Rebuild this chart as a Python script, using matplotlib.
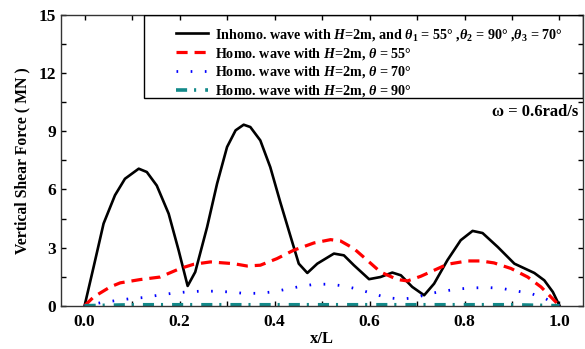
import numpy as np
import matplotlib
matplotlib.use("Agg")
import matplotlib.pyplot as plt
from matplotlib.patches import Rectangle
from matplotlib.ticker import MultipleLocator, FormatStrFormatter

plt.rcParams['font.family'] = 'Liberation Serif'
plt.rcParams['font.weight'] = 'bold'
plt.rcParams['mathtext.fontset'] = 'custom'
plt.rcParams['mathtext.rm'] = 'Liberation Serif:bold'
plt.rcParams['mathtext.it'] = 'Liberation Serif:bold:italic'
plt.rcParams['mathtext.bf'] = 'Liberation Serif:bold'
plt.rcParams['lines.scale_dashes'] = False

# inhomogeneous wave, theta1=55, theta2=90, theta3=70
x_inh = [0.0, 0.019, 0.04, 0.064, 0.085, 0.114, 0.131, 0.152, 0.177, 0.198, 0.217,
         0.233, 0.258, 0.279, 0.30, 0.318, 0.335, 0.349, 0.37, 0.391, 0.412, 0.434,
         0.451, 0.469, 0.49, 0.525, 0.546, 0.567, 0.599, 0.623, 0.648, 0.666, 0.69,
         0.715, 0.736, 0.764, 0.792, 0.817, 0.838, 0.87, 0.905, 0.947, 0.968, 0.986, 1.0]
v_inh = [0.0, 2.0, 4.24, 5.7, 6.55, 7.07, 6.9, 6.2, 4.75, 2.86, 1.02,
         1.74, 4.06, 6.3, 8.19, 9.05, 9.34, 9.22, 8.53, 7.15, 5.35, 3.55,
         2.17, 1.69, 2.17, 2.69, 2.6, 2.09, 1.37, 1.48, 1.71, 1.57, 0.97,
         0.54, 1.14, 2.35, 3.38, 3.86, 3.75, 3.03, 2.17, 1.69, 1.31, 0.71, 0.0]

# homogeneous wave, theta=55
x_55 = [0.0, 0.019, 0.054, 0.075, 0.117, 0.159, 0.201, 0.23, 0.265, 0.314, 0.342,
        0.37, 0.405, 0.44, 0.483, 0.518, 0.539, 0.567, 0.595, 0.623, 0.659, 0.68,
        0.708, 0.736, 0.764, 0.806, 0.834, 0.862, 0.898, 0.933, 0.961, 0.982, 1.0]
v_55 = [0.0, 0.45, 0.97, 1.18, 1.35, 1.48, 1.92, 2.14, 2.26, 2.17, 2.05,
        2.09, 2.43, 2.86, 3.24, 3.41, 3.34, 2.95, 2.35, 1.74, 1.35, 1.28,
        1.52, 1.83, 2.14, 2.31, 2.31, 2.21, 1.92, 1.48, 0.97, 0.45, 0.0]

# homogeneous wave, theta=70
x_70 = [0.0, 0.033, 0.062, 0.092, 0.123, 0.152, 0.184, 0.214, 0.244, 0.274, 0.305,
        0.335, 0.365, 0.395, 0.425, 0.455, 0.486, 0.516, 0.546, 0.576, 0.606, 0.636,
        0.667, 0.697, 0.727, 0.758, 0.789, 0.819, 0.849, 0.879, 0.909, 0.94, 0.97, 1.0]
v_70 = [0.0, 0.15, 0.25, 0.35, 0.42, 0.53, 0.64, 0.71, 0.75, 0.75, 0.71,
        0.64, 0.64, 0.71, 0.85, 1.0, 1.11, 1.11, 1.02, 0.85, 0.63, 0.42,
        0.34, 0.42, 0.63, 0.76, 0.87, 0.92, 0.94, 0.89, 0.76, 0.63, 0.37, 0.0]

# homogeneous wave, theta=90 (almost zero)
x_90 = [0.0, 0.1, 0.2, 0.3, 0.4, 0.5, 0.6, 0.7, 0.8, 0.9, 1.0]
v_90 = [0.0, 0.05, 0.05, 0.05, 0.05, 0.05, 0.05, 0.05, 0.05, 0.05, 0.0]

labels = [r'Inhomo. wave with $H$=2m, and $\theta_1$ = 55$\degree$ ,$\theta_2$ = 90$\degree$ ,$\theta_3$ = 70$\degree$',
          r'Homo. wave with $H$=2m, $\theta$ = 55$\degree$',
          r'Homo. wave with $H$=2m, $\theta$ = 70$\degree$',
          r'Homo. wave with $H$=2m, $\theta$ = 90$\degree$']

fig = plt.figure(figsize=(5.85, 3.49), dpi=100)
ax = fig.add_axes([0.104, 0.124, 0.893, 0.833])

l1, = ax.plot(x_inh, v_inh, color='black', lw=1.9)
l2, = ax.plot(x_55, v_55, color='red', lw=2.3, dashes=(8, 5))
l3, = ax.plot(x_70, v_70, color='blue', lw=2.0, dashes=(1.2, 9))
l4, = ax.plot(x_90, v_90, color='#138a8a', lw=2.6, dashes=(8, 5, 1.5, 6.5))

ax.set_xlim(-0.05, 1.05)
ax.set_ylim(0, 15)
ax.xaxis.set_major_locator(MultipleLocator(0.2))
ax.xaxis.set_minor_locator(MultipleLocator(0.1))
ax.yaxis.set_major_locator(MultipleLocator(3))
ax.yaxis.set_minor_locator(MultipleLocator(1.5))
ax.xaxis.set_major_formatter(FormatStrFormatter('%.1f'))
ax.tick_params(which='both', direction='in', top=True, right=True, length=3.5,
               width=1, labelsize=12.5)
ax.tick_params(axis='x', pad=6)
for s in ax.spines.values():
    s.set_linewidth(1)
    s.set_color('#333333')

ax.set_xlabel('x/L', fontsize=12, fontweight='bold', labelpad=1)
ax.set_ylabel('Vertical Shear Force ( MN )', fontsize=11.3, fontweight='bold', labelpad=6)

# legend box
ax.add_patch(Rectangle((0.159, 0.7145), 0.841, 0.2855, transform=ax.transAxes,
                       fill=False, edgecolor='black', lw=1, zorder=5))
ax.legend([l1, l2, l3, l4], labels, loc='upper left', bbox_to_anchor=(0.21, 0.979),
          frameon=False, fontsize=10.2, handlelength=2.26, handletextpad=0.5,
          labelspacing=0.2, borderaxespad=0)

ax.text(0.99, 0.668, 'ω = 0.6rad/s', transform=ax.transAxes, ha='right',
        va='center', fontsize=12, fontweight='bold')

fig.savefig('out.png', dpi=100)
